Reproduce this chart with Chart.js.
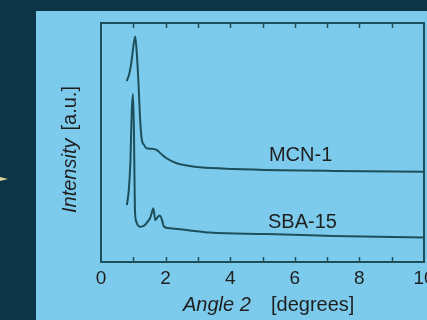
<!DOCTYPE html>
<html>
<head>
<meta charset="utf-8">
<script src="https://cdn.jsdelivr.net/npm/chart.js@4"></script>
<style>
  html, body { margin: 0; padding: 0; width: 427px; height: 320px; overflow: hidden; background: #0c3547; }
  #panel { position: absolute; left: 36px; top: 11px; width: 430px; height: 309px; background: #7ccbec; }
  #mark { position: absolute; left: 0; top: 177px; width: 0; height: 0;
          border-top: 2px solid transparent; border-bottom: 2px solid transparent; border-left: 8px solid #d8d29a; }
</style>
</head>
<body>
<div id="mark"></div>
<div id="panel"><canvas id="chart" width="430" height="309"></canvas></div>
<script>
// ================= DATA =================
const xTicks = [0, 2, 4, 6, 8, 10];

const mcnX = [0.80, 0.88, 0.95, 1.01, 1.06, 1.11, 1.16, 1.21, 1.26, 1.33, 1.41, 1.55, 1.72, 1.88, 2.03, 2.34, 2.7, 3.07, 4.1, 5.5, 7.2, 10];
const mcnY = [75.7, 79, 84.5, 91, 94.3, 87, 75, 60, 51.5, 49, 47.6, 47.4, 46.9, 45.0, 43.4, 41.3, 40.3, 39.6, 38.9, 38.4, 38.1, 37.8];

const sbaX = [0.80, 0.86, 0.91, 0.95, 0.99, 1.02, 1.05, 1.09, 1.14, 1.21, 1.28, 1.36, 1.45, 1.52, 1.57, 1.62, 1.68, 1.74, 1.82, 1.88, 1.95, 2.14, 2.45, 2.65, 3.37, 5.13, 7.18, 10];
const sbaY = [23.8, 30, 42, 62, 70.3, 55, 22, 17, 15.4, 14.8, 14.9, 15.5, 17, 18.4, 20.5, 22.5, 17.5, 18.5, 19.5, 18.0, 14.8, 14.1, 13.7, 13.4, 12.3, 11.7, 10.9, 10.3];

const seriesNames = ["MCN-1", "SBA-15"];

const LINE = "#1d4f5a";
const TEXT = "#1f1f1f";
const FONT = "'Liberation Sans', Arial, sans-serif";

function toPoints(xs, ys) {
  return xs.map((x, i) => ({ x: x, y: ys[i] }));
}

// ================= DECORATIONS =================
const frame = {
  id: "frame",
  afterDraw(chart) {
    const { ctx, chartArea: a, scales } = chart;
    const xs = scales.x;
    ctx.save();
    ctx.strokeStyle = LINE;
    ctx.lineWidth = 2;
    ctx.strokeRect(a.left, a.top, a.right - a.left, a.bottom - a.top);
    // inward ticks, every degree, top and bottom
    ctx.lineWidth = 1.5;
    for (let v = 1; v < 10; v++) {
      const px = Math.round(xs.getPixelForValue(v)) + 0.5;
      ctx.beginPath();
      ctx.moveTo(px, a.bottom); ctx.lineTo(px, a.bottom - 5);
      ctx.moveTo(px, a.top); ctx.lineTo(px, a.top + 5);
      ctx.stroke();
    }

    ctx.fillStyle = TEXT;
    ctx.textBaseline = "alphabetic";
    // series labels
    ctx.font = "20px " + FONT;
    const ys = scales.y;
    ctx.fillText(seriesNames[0], xs.getPixelForValue(5.2), ys.getPixelForValue(42.3));
    ctx.fillText(seriesNames[1], xs.getPixelForValue(5.17), ys.getPixelForValue(14.2));

    // x title
    ctx.font = "italic 20px " + FONT;
    ctx.fillText("Angle 2", 147, 300);
    ctx.font = "20px " + FONT;
    ctx.fillText("[degrees]", 235, 300);

    // y title
    ctx.translate(40, 202);
    ctx.rotate(-Math.PI / 2);
    ctx.font = "italic 20px " + FONT;
    ctx.fillText("Intensity", 0, 0);
    const w = ctx.measureText("Intensity").width;
    ctx.font = "20px " + FONT;
    ctx.fillText("[a.u.]", w + 8, 0);
    ctx.restore();
  }
};

// ================= CHART =================
new Chart(document.getElementById("chart"), {
  type: "line",
  data: {
    datasets: [
      { label: seriesNames[0], data: toPoints(mcnX, mcnY) },
      { label: seriesNames[1], data: toPoints(sbaX, sbaY) }
    ]
  },
  options: {
    responsive: false,
    devicePixelRatio: 1,
    animation: false,
    layout: { padding: { left: 65, top: 12, right: 42, bottom: 28 } },
    elements: {
      point: { radius: 0 },
      line: { borderColor: LINE, borderWidth: 2, cubicInterpolationMode: "monotone", fill: false }
    },
    plugins: { legend: { display: false }, tooltip: { enabled: false } },
    scales: {
      x: {
        type: "linear",
        min: 0, max: 10,
        afterFit(s) { s.height = 30; },
        grid: { display: false, drawTicks: false },
        border: { display: false },
        ticks: {
          stepSize: 2,
          padding: 5,
          color: TEXT,
          font: { family: FONT, size: 19 },
          maxRotation: 0,
          callback: v => xTicks.includes(v) ? String(v) : ""
        }
      },
      y: { display: false, min: 0, max: 100 }
    }
  },
  plugins: [frame]
});
</script>
</body>
</html>
